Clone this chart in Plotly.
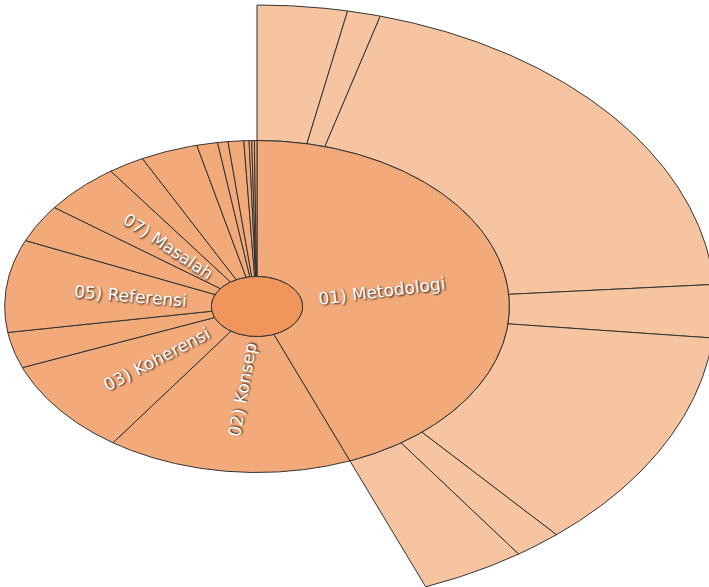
import numpy as np
import plotly.graph_objects as go

# ---------------- data ----------------
categories = ["01) Metodologi", "02) Konsep", "03) Koherensi", "04) Tujuan",
              "05) Referensi", "06) Analisis", "07) Masalah", "08) Hasil",
              "09) Kesimpulan", "10) Judul", "11) Abstrak", "12) Saran",
              "13) Bahasa", "14) Format", "15) Tabel", "16) Lainnya"]
values = [264, 94, 56, 21, 54, 22, 30, 14, 22, 8, 4, 6, 2, 1, 1, 1]

sub_parent = "01) Metodologi"
sub_labels = ["Metodologi A", "Metodologi B", "Metodologi C", "Metodologi D",
              "Metodologi E", "Metodologi F", "Metodologi G"]
sub_values = [19, 7, 117, 17, 72, 10, 22]

shown_labels = ["01) Metodologi", "02) Konsep", "03) Koherensi",
                "05) Referensi", "07) Masalah"]

# ---------------- style / geometry ----------------
W, H = 709, 587
CX, CY = 257, 306.5          # pixel centre
ASPECT = 1.52                # horizontal stretch of the picture
R0, R1, R2 = 30, 166, 301.5  # ring radii (vertical pixels)
R_LABEL = 84
C_ROOT = "#F0955B"
C_L1 = "#F3AA7A"
C_L2 = "#F7C4A1"
LINE = "#333333"

total = float(sum(values))


def wedge(a0, a1, r_in, r_out):
    n = max(int(abs(a1 - a0) * 2) + 2, 3)
    t_out = np.radians(np.linspace(a0, a1, n))
    t_in = np.radians(np.linspace(a1, a0, n))
    xs = np.concatenate([r_out * np.sin(t_out), r_in * np.sin(t_in)])
    ys = np.concatenate([r_out * np.cos(t_out), r_in * np.cos(t_in)])
    xs = np.append(xs, xs[0])
    ys = np.append(ys, ys[0])
    return xs, ys


fig = go.Figure()

# level-1 angles
starts, ends = [], []
acc = 0.0
for v in values:
    starts.append(acc / total * 360)
    acc += v
    ends.append(acc / total * 360)

# outer ring (children of Metodologi)
pi = categories.index(sub_parent)
acc = starts[pi]
for lab, v in zip(sub_labels, sub_values):
    a0 = acc
    acc += v / total * 360
    xs, ys = wedge(a0, acc, R1, R2)
    fig.add_trace(go.Scatter(x=xs, y=ys, mode="lines", fill="toself",
                             fillcolor=C_L2, line=dict(color=LINE, width=1),
                             name=lab, hoverinfo="name"))

# middle ring
for lab, a0, a1 in zip(categories, starts, ends):
    xs, ys = wedge(a0, a1, R0, R1)
    fig.add_trace(go.Scatter(x=xs, y=ys, mode="lines", fill="toself",
                             fillcolor=C_L1, line=dict(color=LINE, width=1),
                             name=lab, hoverinfo="name"))

# root
t = np.radians(np.linspace(0, 360, 200))
fig.add_trace(go.Scatter(x=R0 * np.sin(t), y=R0 * np.cos(t), mode="lines",
                         fill="toself", fillcolor=C_ROOT,
                         line=dict(color=LINE, width=1), name="Total",
                         hoverinfo="name"))

# labels
for lab, a0, a1 in zip(categories, starts, ends):
    if lab not in shown_labels:
        continue
    m = np.radians((a0 + a1) / 2)
    x, y = R_LABEL * np.sin(m), R_LABEL * np.cos(m)
    vx, vy = np.sin(m) * ASPECT, -np.cos(m)
    if np.degrees(m) > 180:
        vx, vy = -vx, -vy
    ang = np.degrees(np.arctan2(vy, vx))
    fig.add_annotation(x=x, y=y, xref="x", yref="y", text=lab,
                       showarrow=False, textangle=ang,
                       font=dict(family="DejaVu Sans", size=17, color="white",
                                 shadow="1px 1px 2px rgba(0,0,0,0.85)"))

fig.update_layout(
    width=W, height=587, margin=dict(l=0, r=0, t=0, b=0),
    paper_bgcolor="white", plot_bgcolor="white", showlegend=False,
    xaxis=dict(range=[-CX / ASPECT, (W - CX) / ASPECT], visible=False,
               fixedrange=True),
    yaxis=dict(range=[-(H - CY), CY], visible=False, fixedrange=True),
)

fig.write_html("out.html")
